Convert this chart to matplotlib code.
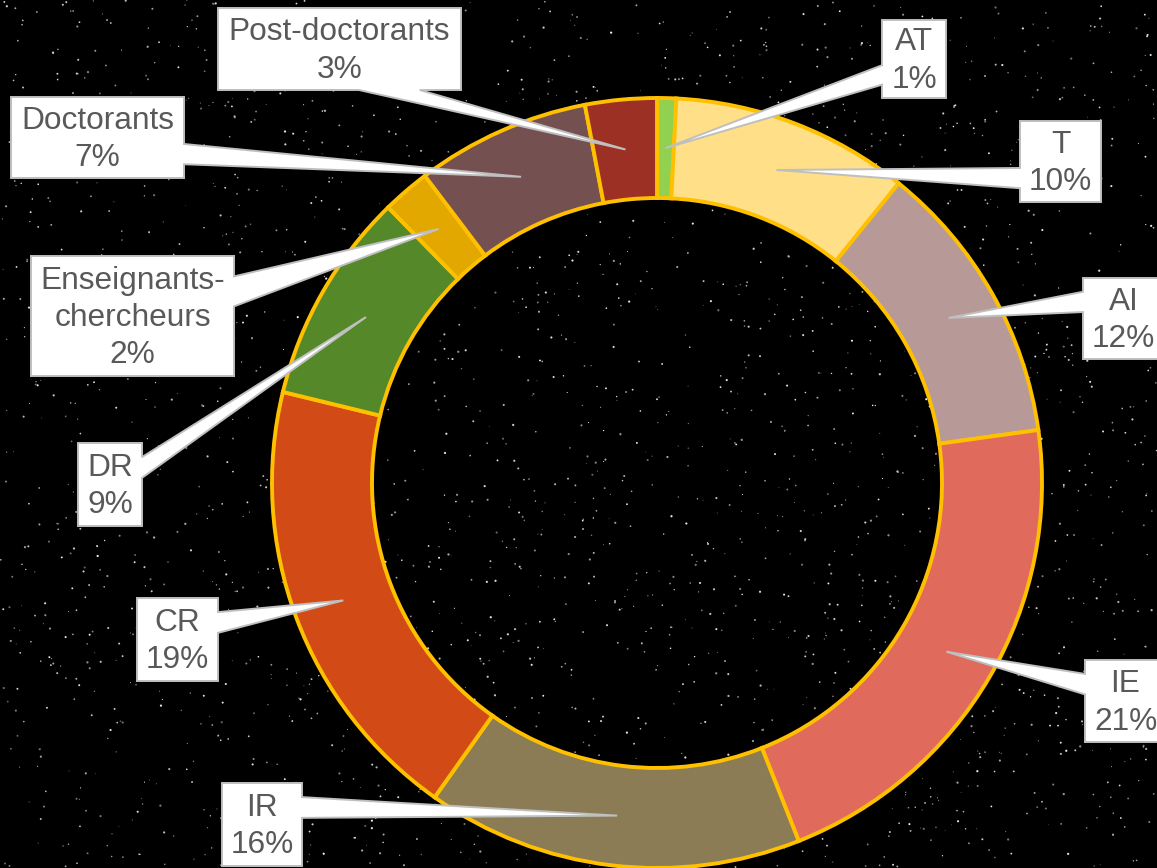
import numpy as np
import matplotlib
matplotlib.use("Agg")
import matplotlib.pyplot as plt
from matplotlib.patches import Polygon

# staff breakdown (clockwise from 12 o'clock)
categories = ["AT", "T", "AI", "IE", "IR", "CR", "DR",
              "Enseignants-\nchercheurs", "Doctorants", "Post-doctorants"]
shares = [0.8, 10.0, 12.0, 21.2, 15.8, 19.0, 8.9, 2.0, 7.3, 3.0]
colors = ["#92D050", "#FFDF87", "#B79A98", "#E06B5D", "#8B7C56",
          "#D24A16", "#558829", "#E3A800", "#755050", "#9C3024"]

# callout boxes in pixels (left, top, right, bottom), top-left origin
boxes = [(882, 20, 946, 98), (1020, 121, 1101, 202), (1083, 278, 1164, 359),
         (1085, 660, 1166, 742), (222, 783, 302, 866), (137, 598, 218, 681),
         (78, 443, 142, 526), (31, 256, 234, 376), (11, 97, 184, 178),
         (218, 8, 461, 90)]

W, H = 1157, 868
CX, CY, R, RING = 657, H - 483, 385, 100

fig = plt.figure(figsize=(W / 100, H / 100), dpi=100, facecolor="black")
ax = fig.add_axes([0, 0, 1, 1])
ax.set_facecolor("black")

# starfield backdrop (decoration only)
rng = np.random.default_rng(7)
ns = 2600
sx, sy = rng.uniform(0, W, ns), rng.uniform(0, H, ns)
ax.scatter(sx, sy, s=rng.uniform(0.3, 2.6, ns), c=rng.uniform(0.4, 0.95, ns),
           cmap="gray", vmin=0, vmax=1, lw=0, zorder=0)

wedges, _ = ax.pie(shares, colors=colors, startangle=90, counterclock=False,
                   center=(CX, CY), radius=R,
                   wedgeprops=dict(width=RING, edgecolor="#FFC000", linewidth=2.8))
for w in wedges:
    w.set_zorder(2)
ax.set_xlim(0, W); ax.set_ylim(0, H); ax.set_aspect("auto")
ax.axis("off")


def callout(box, tip, text):
    l, t, r, b = box
    x0, x1, yt, yb = l, r, H - t, H - b
    w, h = x1 - x0, yt - yb
    cx, cy = (x0 + x1) / 2, (yt + yb) / 2
    dx, dy = (tip[0] - cx) / (w / 2), (tip[1] - cy) / (h / 2)
    pts = [(x0, yt)]
    if abs(dx) > abs(dy):
        f1, f2 = (0.17, 0.42) if dy > 0 else (0.58, 0.83)
        if dx > 0:
            pts += [(x1, yt), (x1, yt - f1 * h), tip, (x1, yt - f2 * h), (x1, yb), (x0, yb)]
        else:
            pts += [(x1, yt), (x1, yb), (x0, yb), (x0, yt - f2 * h), tip, (x0, yt - f1 * h)]
    else:
        f1, f2 = (0.58, 0.83) if dx > 0 else (0.17, 0.42)
        if dy > 0:
            pts += [(x0 + f1 * w, yt), tip, (x0 + f2 * w, yt), (x1, yt), (x1, yb), (x0, yb)]
        else:
            pts += [(x1, yt), (x1, yb), (x0 + f2 * w, yb), tip, (x0 + f1 * w, yb), (x0, yb)]
    ax.add_patch(Polygon(pts, closed=True, fc="white", ec="#BFBFBF", lw=1.4,
                         joinstyle="miter", zorder=5))
    ax.text(cx, cy - 2, text, ha="center", va="center", fontsize=22.8, color="#595959",
            family=["Liberation Sans", "DejaVu Sans"], linespacing=1.32, zorder=6)


rmid = R - RING / 2
for w, name, v, box in zip(wedges, categories, shares, boxes):
    a = np.deg2rad((w.theta1 + w.theta2) / 2)
    tip = (CX + rmid * np.cos(a), CY + rmid * np.sin(a))
    callout(box, tip, f"{name}\n{round(v)}%")

fig.savefig("out.png", dpi=100, facecolor="black")
